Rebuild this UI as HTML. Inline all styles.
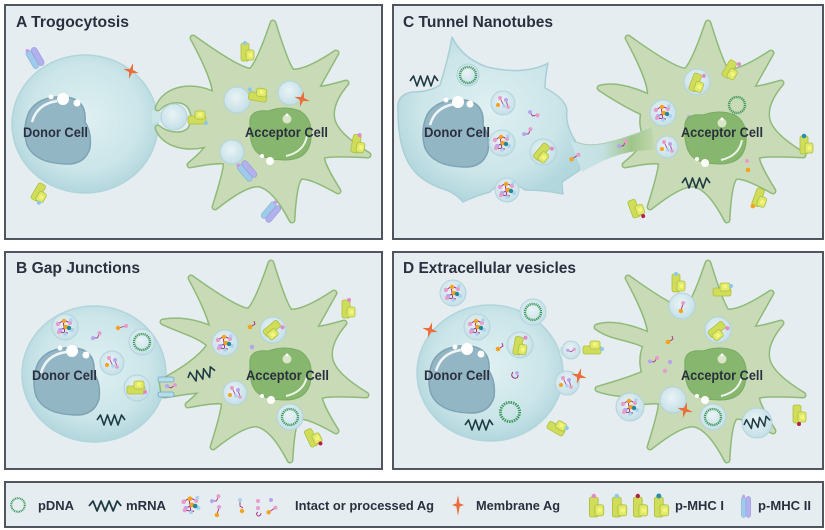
<!DOCTYPE html>
<html><head><meta charset="utf-8"><style>
html,body{margin:0;padding:0;background:#fff;}
svg{display:block;}
text{font-family:"Liberation Sans",Arial,sans-serif;font-weight:bold;fill:#2b2f3e;}
</style></head><body>
<svg width="825" height="530" viewBox="0 0 825 530" xmlns="http://www.w3.org/2000/svg" xmlns:xlink="http://www.w3.org/1999/xlink">
<defs>
<radialGradient id="dg" cx="50%" cy="45%" r="55%"><stop offset="0" stop-color="#dff0f2"/><stop offset="0.7" stop-color="#cbe5e9"/><stop offset="1" stop-color="#b2d7dd"/></radialGradient>
<radialGradient id="vg" cx="45%" cy="40%" r="60%"><stop offset="0" stop-color="#e9f3f6"/><stop offset="1" stop-color="#c4dfe7"/></radialGradient>
<linearGradient id="tube" gradientUnits="userSpaceOnUse" x1="575" y1="0" x2="655" y2="0"><stop offset="0" stop-color="#c9e4e8"/><stop offset="0.35" stop-color="#c4e0e2"/><stop offset="0.7" stop-color="#9fc589"/><stop offset="1" stop-color="#c3d8b0"/></linearGradient>
<path id="accp" d="M-56,-26 Q-50,-37 -77,-87 Q-31,-54 -19,-54 Q-11,-61 3,-102 Q16,-60 22,-53 Q36,-52 66,-72 Q48,-40 46,-36 Q52,-35 76,-42 Q59,-22 62,-6 Q65,10 98,30 Q60,28 52,31 Q50,37 68,66 Q38,49 30,52 Q24,58 22,95 Q5,62 -11,59 Q-25,58 -55,82 Q-43,44 -44,37 Q-49,34 -80,40 Q-56,20 -59,12 Q-67,-7 -56,-26 Z"/>
<g id="anuc"><path d="M-30,-8 Q-32,-24 -12,-22 Q5,-28 20,-22 Q33,-14 31,5 Q29,27 5,27 Q-18,27 -25,17 Q-31,8 -30,-8 Z" fill="#87b76e" stroke="#78aa60" stroke-width="1"/><path d="M6,23 Q24,19 27,3" fill="none" stroke="#fff" stroke-width="2" opacity="0.85"/><circle cx="7" cy="-14" r="4.5" fill="#d9e7c8"/><circle cx="7" cy="-18" r="1.5" fill="#fff"/></g>
<g id="dnuc"><path d="M-28,-18 Q-18,-35 10,-33 Q30,-30 28,-8 Q35,3 33,18 Q28,35 8,34 Q-22,33 -30,15 Q-35,-2 -28,-18 Z" fill="#93b6c5" stroke="#7ea3b4" stroke-width="1.5"/><path d="M-25,-8 Q-20,-26 0,-29" fill="none" stroke="#fff" stroke-width="2.5" opacity="0.85"/></g>
<g id="m1"><rect x="-6" y="-9" width="8" height="18" rx="2" fill="#cfdd5a" stroke="#aebf3f" stroke-width="0.8"/><rect x="-1" y="-2" width="8" height="10" rx="2" fill="#dfe96a" stroke="#aebf3f" stroke-width="0.8"/><rect x="1.5" y="1" width="4" height="4" rx="1" fill="#f6f47a"/></g>
<g id="m2"><rect x="-6" y="-10" width="6" height="20" rx="3" fill="#9fcbea" stroke="#86b4d8" stroke-width="0.6"/><rect x="0" y="-10" width="6" height="20" rx="3" fill="#b3b0ee" stroke="#9a96dc" stroke-width="0.6"/><circle cx="-3" cy="-10" r="1.8" fill="#c99be6"/></g>
<g id="agc"><path d="M-7,-3 L-1,-7 L5,-4 M-5,3 L1,0 L7,3 M-2,-7 L0,7 M-6,5 L3,6" stroke="#a42f82" stroke-width="1" fill="none"/><circle cx="-7" cy="-3" r="2.2" fill="#e79ccb"/><circle cx="-1" cy="-6" r="2.2" fill="#f5a21e"/><circle cx="5" cy="-4" r="2" fill="#e79ccb"/><circle cx="1" cy="0" r="2.3" fill="#f5a21e"/><circle cx="-5" cy="3" r="2" fill="#b8a4ee"/><circle cx="7" cy="3" r="2" fill="#a9d3ee"/><circle cx="4" cy="1" r="2.2" fill="#23889a"/><circle cx="-6" cy="5" r="2" fill="#e79ccb"/><circle cx="0" cy="7" r="1.8" fill="#a9d3ee"/><circle cx="6" cy="-7" r="1.8" fill="#a9d3ee"/></g>
<g id="agp"><path d="M-3,-5 L1,3 M3,-3 L5,4" stroke="#a42f82" stroke-width="0.8"/><circle cx="-3" cy="-5" r="2" fill="#e79ccb"/><circle cx="3" cy="-3" r="2" fill="#b8a4ee"/><circle cx="-5" cy="2" r="2" fill="#f5a21e"/><circle cx="1" cy="3" r="1.8" fill="#a9d3ee"/><circle cx="5" cy="4" r="1.8" fill="#e79ccb"/></g>
<g id="ags"><path d="M-4,-1 L0,1 L4,-2" stroke="#a42f82" fill="none" stroke-width="0.9"/><circle cx="-4" cy="-1" r="2" fill="#b8a4ee"/><circle cx="4" cy="-2" r="2" fill="#e79ccb"/></g>
<g id="ago"><path d="M-4,1 L4,-1" stroke="#a42f82" fill="none" stroke-width="0.9"/><circle cx="-4" cy="1" r="2.2" fill="#f5a21e"/><circle cx="4" cy="-1" r="2" fill="#e79ccb"/></g>
<path id="st" d="M0,-8 L1.6,-1.6 L8,0 L1.6,1.6 L0,8 L-1.6,1.6 L-8,0 L-1.6,-1.6 Z" fill="#ea6d3a"/>
<circle id="rg" r="8" fill="none" stroke="#3e9a5c" stroke-width="2.4" stroke-dasharray="1.2 0.8"/>
<path id="wv" d="M0,0 l3.5,-5 l3.5,10 l3.5,-10 l3.5,10 l3.5,-10 l3.5,10 l3.5,-10 l3.5,5" fill="none" stroke="#1f3c44" stroke-width="1.6" stroke-linejoin="round"/>
</defs>

<!-- panel boxes -->
<g fill="#e6edf1" stroke="#50555f" stroke-width="2">
<rect x="5" y="5" width="377" height="234"/>
<rect x="393" y="5" width="430" height="234"/>
<rect x="5" y="252" width="377" height="217"/>
<rect x="393" y="252" width="430" height="217"/>
<rect x="5" y="482" width="818" height="45"/>
</g>

<!-- ================= PANEL A ================= -->
<ellipse cx="85" cy="124" rx="73" ry="69" fill="url(#dg)" stroke="#b0d5db" stroke-width="1.5"/>
<g fill="none" stroke="#8fba79" stroke-width="7" stroke-linejoin="round">
<use href="#accp" transform="translate(270,125)"/>
<path d="M220,98 C195,82 165,88 158,108 C165,100 182,96 190,106 C195,114 195,122 190,130 C182,138 166,135 158,128 C165,148 198,152 220,138 Z"/>
</g>
<g fill="#c8dab6" stroke="#c8dab6" stroke-width="4" stroke-linejoin="round">
<use href="#accp" transform="translate(270,125)"/>
<path d="M220,98 C195,82 165,88 158,108 C165,100 182,96 190,106 C195,114 195,122 190,130 C182,138 166,135 158,128 C165,148 198,152 220,138 Z"/>
</g>
<path d="M152,110 Q160,114 166,110 L166,124 Q160,120 152,124 Z" fill="#cbe5e9"/>
<circle cx="174" cy="117" r="13" fill="url(#vg)" stroke="#b2d3dc"/>
<use href="#dnuc" transform="translate(57,130)"/>
<circle cx="51" cy="97" r="2.5" fill="#fff"/><circle cx="63" cy="99" r="6" fill="#fff"/><circle cx="77" cy="103" r="3.5" fill="#fff"/>
<g transform="translate(35,58) rotate(-30)"><use href="#m2"/></g>
<use href="#st" transform="translate(131,71) rotate(15)"/>
<g transform="translate(40,193) rotate(30)"><use href="#m1"/><circle cx="4" cy="9" r="2" fill="#8cc8ea"/></g>
<g transform="translate(197,118) rotate(-90)"><use href="#m1"/><circle cx="-5" cy="9" r="2" fill="#8cc8ea"/></g>
<circle cx="237" cy="100" r="13" fill="url(#vg)" stroke="#b2d3dc"/>
<circle cx="290" cy="93" r="12" fill="url(#vg)" stroke="#b2d3dc"/>
<circle cx="232" cy="152" r="12" fill="url(#vg)" stroke="#b2d3dc"/>
<g transform="translate(258,95) rotate(-80)"><use href="#m1"/><circle cx="4" cy="-9" r="2" fill="#8cc8ea"/></g>
<g transform="translate(247,52)"><use href="#m1"/><circle cx="-2" cy="-9" r="2" fill="#8cc8ea"/></g>
<g transform="translate(358,144) rotate(10)"><use href="#m1"/><circle cx="0" cy="-9" r="2" fill="#e08ac8"/></g>
<use href="#st" transform="translate(302,99) rotate(15)"/>
<g transform="translate(247,171) rotate(-40)"><use href="#m2"/></g>
<g transform="translate(271,212) rotate(40)"><use href="#m2"/></g>
<use href="#anuc" transform="translate(280,133)"/>
<circle cx="270" cy="161" r="4" fill="#fff"/><circle cx="262" cy="156" r="2" fill="#fff"/>

<text x="16" y="27" font-size="15.5" textLength="113" lengthAdjust="spacingAndGlyphs">A Trogocytosis</text>
<text x="23" y="137" font-size="13.5" textLength="65" lengthAdjust="spacingAndGlyphs">Donor Cell</text>
<text x="245" y="137" font-size="13.5" textLength="83" lengthAdjust="spacingAndGlyphs">Acceptor Cell</text>

<!-- ================= PANEL B ================= -->
<ellipse cx="94" cy="374" rx="72" ry="68" fill="url(#dg)" stroke="#b0d5db" stroke-width="1.5"/>
<g fill="none" stroke="#8fba79" stroke-width="7" stroke-linejoin="round">
<use href="#accp" transform="translate(268,365)"/>
<path d="M225,335 C205,325 185,318 163,322 C180,330 200,335 210,345 C200,360 180,372 162,382 L164,395 C185,392 205,388 225,390 Z"/>
</g>
<g fill="#c8dab6" stroke="#c8dab6" stroke-width="4" stroke-linejoin="round">
<use href="#accp" transform="translate(268,365)"/>
<path d="M225,335 C205,325 185,318 163,322 C180,330 200,335 210,345 C200,360 180,372 162,382 L164,395 C185,392 205,388 225,390 Z"/>
<path d="M214,334 L228,336 L226,388 L212,388 Z" stroke="none"/>
</g>
<g fill="#b7dcec" stroke="#6fa8c4" stroke-width="0.8"><rect x="158" y="377" width="16" height="5" rx="2"/><rect x="158" y="392" width="16" height="5" rx="2"/></g>
<use href="#ags" transform="translate(171,387)"/>
<use href="#wv" transform="translate(188,378) rotate(-15)"/>
<use href="#dnuc" transform="translate(66,381)"/>
<circle cx="60" cy="348" r="2.5" fill="#fff"/><circle cx="72" cy="351" r="6" fill="#fff"/><circle cx="86" cy="355" r="3.5" fill="#fff"/>
<circle cx="65" cy="327" r="13" fill="url(#vg)" stroke="#b2d3dc"/><use href="#agc" transform="translate(65,327)"/>
<use href="#ago" transform="translate(122,327)"/>
<use href="#ags" transform="translate(97,337) rotate(-30)"/>
<circle cx="142" cy="342" r="13" fill="url(#vg)" stroke="#b2d3dc"/><use href="#rg" transform="translate(142,342)"/>
<circle cx="112" cy="363" r="12" fill="url(#vg)" stroke="#b2d3dc"/><use href="#agp" transform="translate(112,363)"/>
<circle cx="137" cy="388" r="13" fill="url(#vg)" stroke="#b2d3dc"/>
<g transform="translate(136,388) rotate(-90)"><use href="#m1"/><circle cx="-4" cy="9" r="2" fill="#e08ac8"/></g>
<use href="#wv" transform="translate(97,420)"/>
<circle cx="225" cy="343" r="13" fill="url(#vg)" stroke="#b2d3dc"/><use href="#agc" transform="translate(225,343)"/>
<circle cx="273" cy="330" r="13" fill="url(#vg)" stroke="#b2d3dc"/>
<g transform="translate(273,330) rotate(50)"><use href="#m1"/><circle cx="4" cy="-9" r="2" fill="#e08ac8"/></g>
<circle cx="250" cy="327" r="2.3" fill="#f5a21e"/><path d="M252,326 l3,-2 l-1,-3" stroke="#a42f82" fill="none" stroke-width="0.9"/>
<circle cx="252" cy="347" r="2.3" fill="#b8a4ee"/>
<circle cx="235" cy="393" r="12" fill="url(#vg)" stroke="#b2d3dc"/><use href="#agp" transform="translate(235,393)"/>
<circle cx="290" cy="417" r="13" fill="url(#vg)" stroke="#b2d3dc"/><use href="#rg" transform="translate(290,417)"/>
<g transform="translate(348,309)"><use href="#m1"/><circle cx="1" cy="-9" r="2" fill="#e08ac8"/></g>
<g transform="translate(313,437) rotate(-25)"><use href="#m1"/><circle cx="4" cy="9" r="2" fill="#b0204a"/></g>
<use href="#anuc" transform="translate(280,373)"/>
<circle cx="271" cy="400" r="4" fill="#fff"/><circle cx="262" cy="396" r="2" fill="#fff"/>

<text x="16" y="273" font-size="15.5" textLength="124" lengthAdjust="spacingAndGlyphs">B Gap Junctions</text>
<text x="32" y="380" font-size="13.5" textLength="65" lengthAdjust="spacingAndGlyphs">Donor Cell</text>
<text x="246" y="380" font-size="13.5" textLength="83" lengthAdjust="spacingAndGlyphs">Acceptor Cell</text>

<!-- ================= PANEL C ================= -->
<path d="M398,110 Q396,95 412,92 Q430,92 440,85 Q448,60 452,37 Q462,58 487,67 Q510,72 525,70 Q540,68 548,63 Q545,78 545,88 Q565,98 567,110 Q565,125 575,140 L580,170 Q568,178 562,182 Q562,188 563,194 Q545,190 525,190 Q505,175 490,192 Q475,196 463,202 Q455,192 440,188 Q420,180 412,168 Q398,150 398,110 Z" fill="url(#dg)" stroke="#a9cfd6" stroke-width="1.5" stroke-linejoin="round"/>
<g fill="none" stroke="#8fba79" stroke-width="7" stroke-linejoin="round">
<use href="#accp" transform="translate(705,125)"/>
<path d="M655,100 C635,90 615,84 600,88 C615,98 635,110 652,116 Z"/>
</g>
<g fill="#c8dab6" stroke="#c8dab6" stroke-width="4" stroke-linejoin="round">
<use href="#accp" transform="translate(705,125)"/>
<path d="M655,100 C635,90 615,84 600,88 C615,98 635,110 652,116 Z"/>
</g>
<path d="M570,140 C590,150 612,142 652,128 L654,150 C622,150 604,160 582,172 Z" fill="url(#tube)"/>
<path d="M574,141 C592,150 612,142 650,129" fill="none" stroke="#a9cfb0" stroke-width="1"/>
<use href="#wv" transform="translate(410,81)"/>
<use href="#dnuc" transform="translate(455,133)"/>
<circle cx="446" cy="100" r="2.5" fill="#fff"/><circle cx="458" cy="102" r="6" fill="#fff"/><circle cx="470" cy="104" r="3.5" fill="#fff"/>
<circle cx="468" cy="75" r="11" fill="url(#vg)" stroke="#b2d3dc"/><use href="#rg" transform="translate(468,75)"/>
<circle cx="503" cy="103" r="12" fill="url(#vg)" stroke="#b2d3dc"/><use href="#agp" transform="translate(503,103)"/>
<circle cx="502" cy="143" r="13" fill="url(#vg)" stroke="#b2d3dc"/><use href="#agc" transform="translate(502,143)"/>
<circle cx="543" cy="152" r="13" fill="url(#vg)" stroke="#b2d3dc"/>
<g transform="translate(543,153) rotate(40)"><use href="#m1"/><circle cx="4" cy="-9" r="2" fill="#e08ac8"/></g>
<circle cx="507" cy="190" r="12" fill="url(#vg)" stroke="#b2d3dc"/><use href="#agc" transform="translate(507,190)"/>
<use href="#ags" transform="translate(533,115) rotate(30)"/>
<use href="#ags" transform="translate(528,133) rotate(-30)"/>
<use href="#ago" transform="translate(575,157) rotate(-20)"/>
<use href="#ags" transform="translate(623,145) rotate(-30)"/>
<circle cx="697" cy="82" r="13" fill="url(#vg)" stroke="#b2d3dc"/>
<g transform="translate(697,83) rotate(20)"><use href="#m1"/><circle cx="4" cy="-9" r="2" fill="#e08ac8"/></g>
<circle cx="663" cy="113" r="13" fill="url(#vg)" stroke="#b2d3dc"/><use href="#agc" transform="translate(663,113)"/>
<circle cx="667" cy="147" r="11" fill="url(#vg)" stroke="#b2d3dc"/><use href="#agp" transform="translate(667,147)"/>
<use href="#rg" transform="translate(737,105)"/>
<use href="#ags" transform="translate(692,120) rotate(30)"/>
<circle cx="747" cy="161" r="2" fill="#e79ccb"/><circle cx="748" cy="170" r="2.3" fill="#f5a21e"/>
<use href="#wv" transform="translate(682,183)"/>
<g transform="translate(731,70) rotate(30)"><use href="#m1"/><circle cx="4" cy="-9" r="2" fill="#e08ac8"/></g>
<g transform="translate(806,145)"><use href="#m1"/><circle cx="-2" cy="-9" r="2.3" fill="#2a8fa8"/></g>
<g transform="translate(760,198) rotate(20)"><use href="#m1"/><circle cx="-4" cy="10" r="2.3" fill="#f5a21e"/></g>
<g transform="translate(636,208) rotate(-20)"><use href="#m1"/><circle cx="4" cy="10" r="2" fill="#b0204a"/></g>
<use href="#anuc" transform="translate(715,137)"/>
<circle cx="705" cy="163" r="4" fill="#fff"/><circle cx="697" cy="159" r="2" fill="#fff"/>

<text x="403" y="27" font-size="15.5" textLength="150" lengthAdjust="spacingAndGlyphs">C Tunnel Nanotubes</text>
<text x="424" y="137" font-size="13.5" textLength="66" lengthAdjust="spacingAndGlyphs">Donor Cell</text>
<text x="681" y="137" font-size="13.5" textLength="82" lengthAdjust="spacingAndGlyphs">Acceptor Cell</text>

<!-- ================= PANEL D ================= -->
<ellipse cx="490" cy="373" rx="73" ry="68" fill="url(#dg)" stroke="#b0d5db" stroke-width="1.5"/>
<g fill="none" stroke="#8fba79" stroke-width="7" stroke-linejoin="round">
<use href="#accp" transform="translate(705,365)"/>
<path d="M655,338 C635,328 612,322 597,327 C612,338 630,337 645,345 Z"/>
<path d="M648,372 C630,380 612,385 598,389 C612,394 632,396 652,392 Z"/>
</g>
<g fill="#c8dab6" stroke="#c8dab6" stroke-width="4" stroke-linejoin="round">
<use href="#accp" transform="translate(705,365)"/>
<path d="M655,338 C635,328 612,322 597,327 C612,338 630,337 645,345 Z"/>
<path d="M648,372 C630,380 612,385 598,389 C612,394 632,396 652,392 Z"/>
<path d="M648,338 L660,336 L660,396 L648,394 L642,360 Z" stroke="none"/>
</g>
<circle cx="453" cy="293" r="13" fill="url(#vg)" stroke="#b2d3dc"/><use href="#agc" transform="translate(453,293)"/>
<circle cx="533" cy="312" r="13" fill="url(#vg)" stroke="#b2d3dc"/><use href="#rg" transform="translate(533,312)"/>
<path d="M560,347 L566,347 L566,354 L560,356 Z" fill="#cbe5e9"/>
<circle cx="571" cy="350" r="9" fill="url(#vg)" stroke="#b2d3dc"/><use href="#ags" transform="translate(571,351) scale(0.8)"/>
<g transform="translate(592,348) rotate(-90)"><use href="#m1"/><circle cx="-1" cy="10" r="2" fill="#8cc8ea"/></g>
<use href="#st" transform="translate(430,330) rotate(15)"/>
<use href="#dnuc" transform="translate(461,379)"/>
<circle cx="455" cy="347" r="2.5" fill="#fff"/><circle cx="467" cy="349" r="6" fill="#fff"/><circle cx="481" cy="354" r="3.5" fill="#fff"/>
<circle cx="477" cy="327" r="13" fill="url(#vg)" stroke="#b2d3dc"/><use href="#agc" transform="translate(477,327)"/>
<circle cx="520" cy="345" r="13" fill="url(#vg)" stroke="#b2d3dc"/>
<g transform="translate(520,346) rotate(10)"><use href="#m1"/><circle cx="4" cy="-9" r="2" fill="#e08ac8"/></g>
<circle cx="498" cy="349" r="2.3" fill="#f5a21e"/><path d="M500,348 l3,-2 l-1,-3" stroke="#a42f82" fill="none" stroke-width="0.9"/>
<path d="M513,372 q-3,4 1,6 q4,1 4,-3" stroke="#a42f82" fill="none" stroke-width="1"/><circle cx="517" cy="373" r="1.8" fill="#b8a4ee"/>
<circle cx="567" cy="383" r="12" fill="url(#vg)" stroke="#b2d3dc"/><use href="#agp" transform="translate(566,383)"/>
<use href="#st" transform="translate(579,376) rotate(15)"/>
<use href="#rg" transform="translate(510,412) scale(1.2)"/>
<use href="#wv" transform="translate(465,425)"/>
<g transform="translate(557,427) rotate(-60)"><use href="#m1"/><circle cx="4" cy="9" r="2" fill="#8cc8ea"/></g>
<g transform="translate(678,283)"><use href="#m1"/><circle cx="-2" cy="-9" r="2" fill="#8cc8ea"/></g>
<g transform="translate(722,290) rotate(-90)"><use href="#m1"/><circle cx="4" cy="9" r="2" fill="#8cc8ea"/></g>
<circle cx="682" cy="306" r="13" fill="url(#vg)" stroke="#b2d3dc"/><use href="#ago" transform="translate(682,307) rotate(-60)"/>
<circle cx="718" cy="330" r="13" fill="url(#vg)" stroke="#b2d3dc"/>
<g transform="translate(718,331) rotate(50)"><use href="#m1"/><circle cx="4" cy="-9" r="2" fill="#e08ac8"/></g>
<circle cx="668" cy="342" r="2.3" fill="#f5a21e"/><path d="M670,341 l3,-2 l-1,-3" stroke="#a42f82" fill="none" stroke-width="0.9"/>
<use href="#ags" transform="translate(654,361) rotate(-20)"/>
<circle cx="670" cy="362" r="2.2" fill="#b8a4ee"/><circle cx="665" cy="371" r="2.2" fill="#e79ccb"/>
<circle cx="630" cy="407" r="14" fill="url(#vg)" stroke="#b2d3dc"/><use href="#agc" transform="translate(630,407)"/>
<circle cx="673" cy="400" r="13" fill="url(#vg)" stroke="#b2d3dc"/>
<use href="#st" transform="translate(685,410) rotate(15)"/>
<circle cx="713" cy="417" r="13" fill="url(#vg)" stroke="#b2d3dc"/><use href="#rg" transform="translate(713,417)"/>
<circle cx="757" cy="423" r="15" fill="url(#vg)" stroke="#b2d3dc"/><use href="#wv" transform="translate(744,425) rotate(-10) scale(0.95)"/>
<g transform="translate(799,414)"><use href="#m1"/><circle cx="0" cy="10" r="2" fill="#b0204a"/></g>
<use href="#anuc" transform="translate(715,373)"/>
<circle cx="705" cy="400" r="4" fill="#fff"/><circle cx="697" cy="396" r="2" fill="#fff"/>

<text x="403" y="273" font-size="15.5" textLength="173" lengthAdjust="spacingAndGlyphs">D Extracellular vesicles</text>
<text x="424" y="380" font-size="13.5" textLength="66" lengthAdjust="spacingAndGlyphs">Donor Cell</text>
<text x="681" y="380" font-size="13.5" textLength="82" lengthAdjust="spacingAndGlyphs">Acceptor Cell</text>

<!-- ================= LEGEND ================= -->
<use href="#rg" transform="translate(18,505) scale(0.85)"/>
<text x="38" y="510" font-size="13" textLength="36" lengthAdjust="spacingAndGlyphs">pDNA</text>
<use href="#wv" transform="translate(89,506) scale(1.15,1)"/>
<text x="126" y="510" font-size="13" textLength="40" lengthAdjust="spacingAndGlyphs">mRNA</text>
<use href="#agc" transform="translate(191,505) scale(1.05)"/>
<use href="#ags" transform="translate(216,500) rotate(-30)"/>
<use href="#ago" transform="translate(218,511) rotate(-60)"/>
<circle cx="240" cy="500" r="2" fill="#a9d3ee"/><path d="M240,502 l0,4 l3,2" stroke="#a42f82" fill="none" stroke-width="0.9"/><circle cx="242" cy="511" r="2.2" fill="#f5a21e"/>
<circle cx="258" cy="501" r="2" fill="#e79ccb"/><circle cx="258" cy="508" r="2" fill="#e79ccb"/>
<circle cx="271" cy="500" r="2" fill="#b8a4ee"/>
<path d="M258,512 q-3,2 0,4 q3,0 3,-3" stroke="#a42f82" fill="none" stroke-width="0.9"/>
<use href="#ago" transform="translate(272,510) rotate(-20)"/>
<text x="295" y="510" font-size="13" textLength="139" lengthAdjust="spacingAndGlyphs">Intact or processed Ag</text>
<path d="M458,495 L459.6,503.4 L464,505 L459.6,506.6 L458,516 L456.4,506.6 L452,505 L456.4,503.4 Z" fill="#ea6d3a"/>
<text x="476" y="510" font-size="13" textLength="84" lengthAdjust="spacingAndGlyphs">Membrane Ag</text>
<g transform="translate(596,507) scale(1.1)"><use href="#m1"/><circle cx="-2" cy="-10" r="2" fill="#e08ac8"/></g>
<g transform="translate(619,507) scale(1.1)"><use href="#m1"/><circle cx="-2" cy="-10" r="2" fill="#8cc8ea"/></g>
<g transform="translate(640,507) scale(1.1)"><use href="#m1"/><circle cx="-2" cy="-10" r="2" fill="#b0204a"/></g>
<g transform="translate(661,507) scale(1.1)"><use href="#m1"/><circle cx="-2" cy="-10" r="2.3" fill="#2a8fa8"/></g>
<text x="675" y="510" font-size="13" textLength="49" lengthAdjust="spacingAndGlyphs">p-MHC I</text>
<g transform="translate(746,507) scale(0.8,1.05)"><use href="#m2"/></g>
<text x="758" y="510" font-size="13" textLength="53" lengthAdjust="spacingAndGlyphs">p-MHC II</text>
</svg>
</body></html>
